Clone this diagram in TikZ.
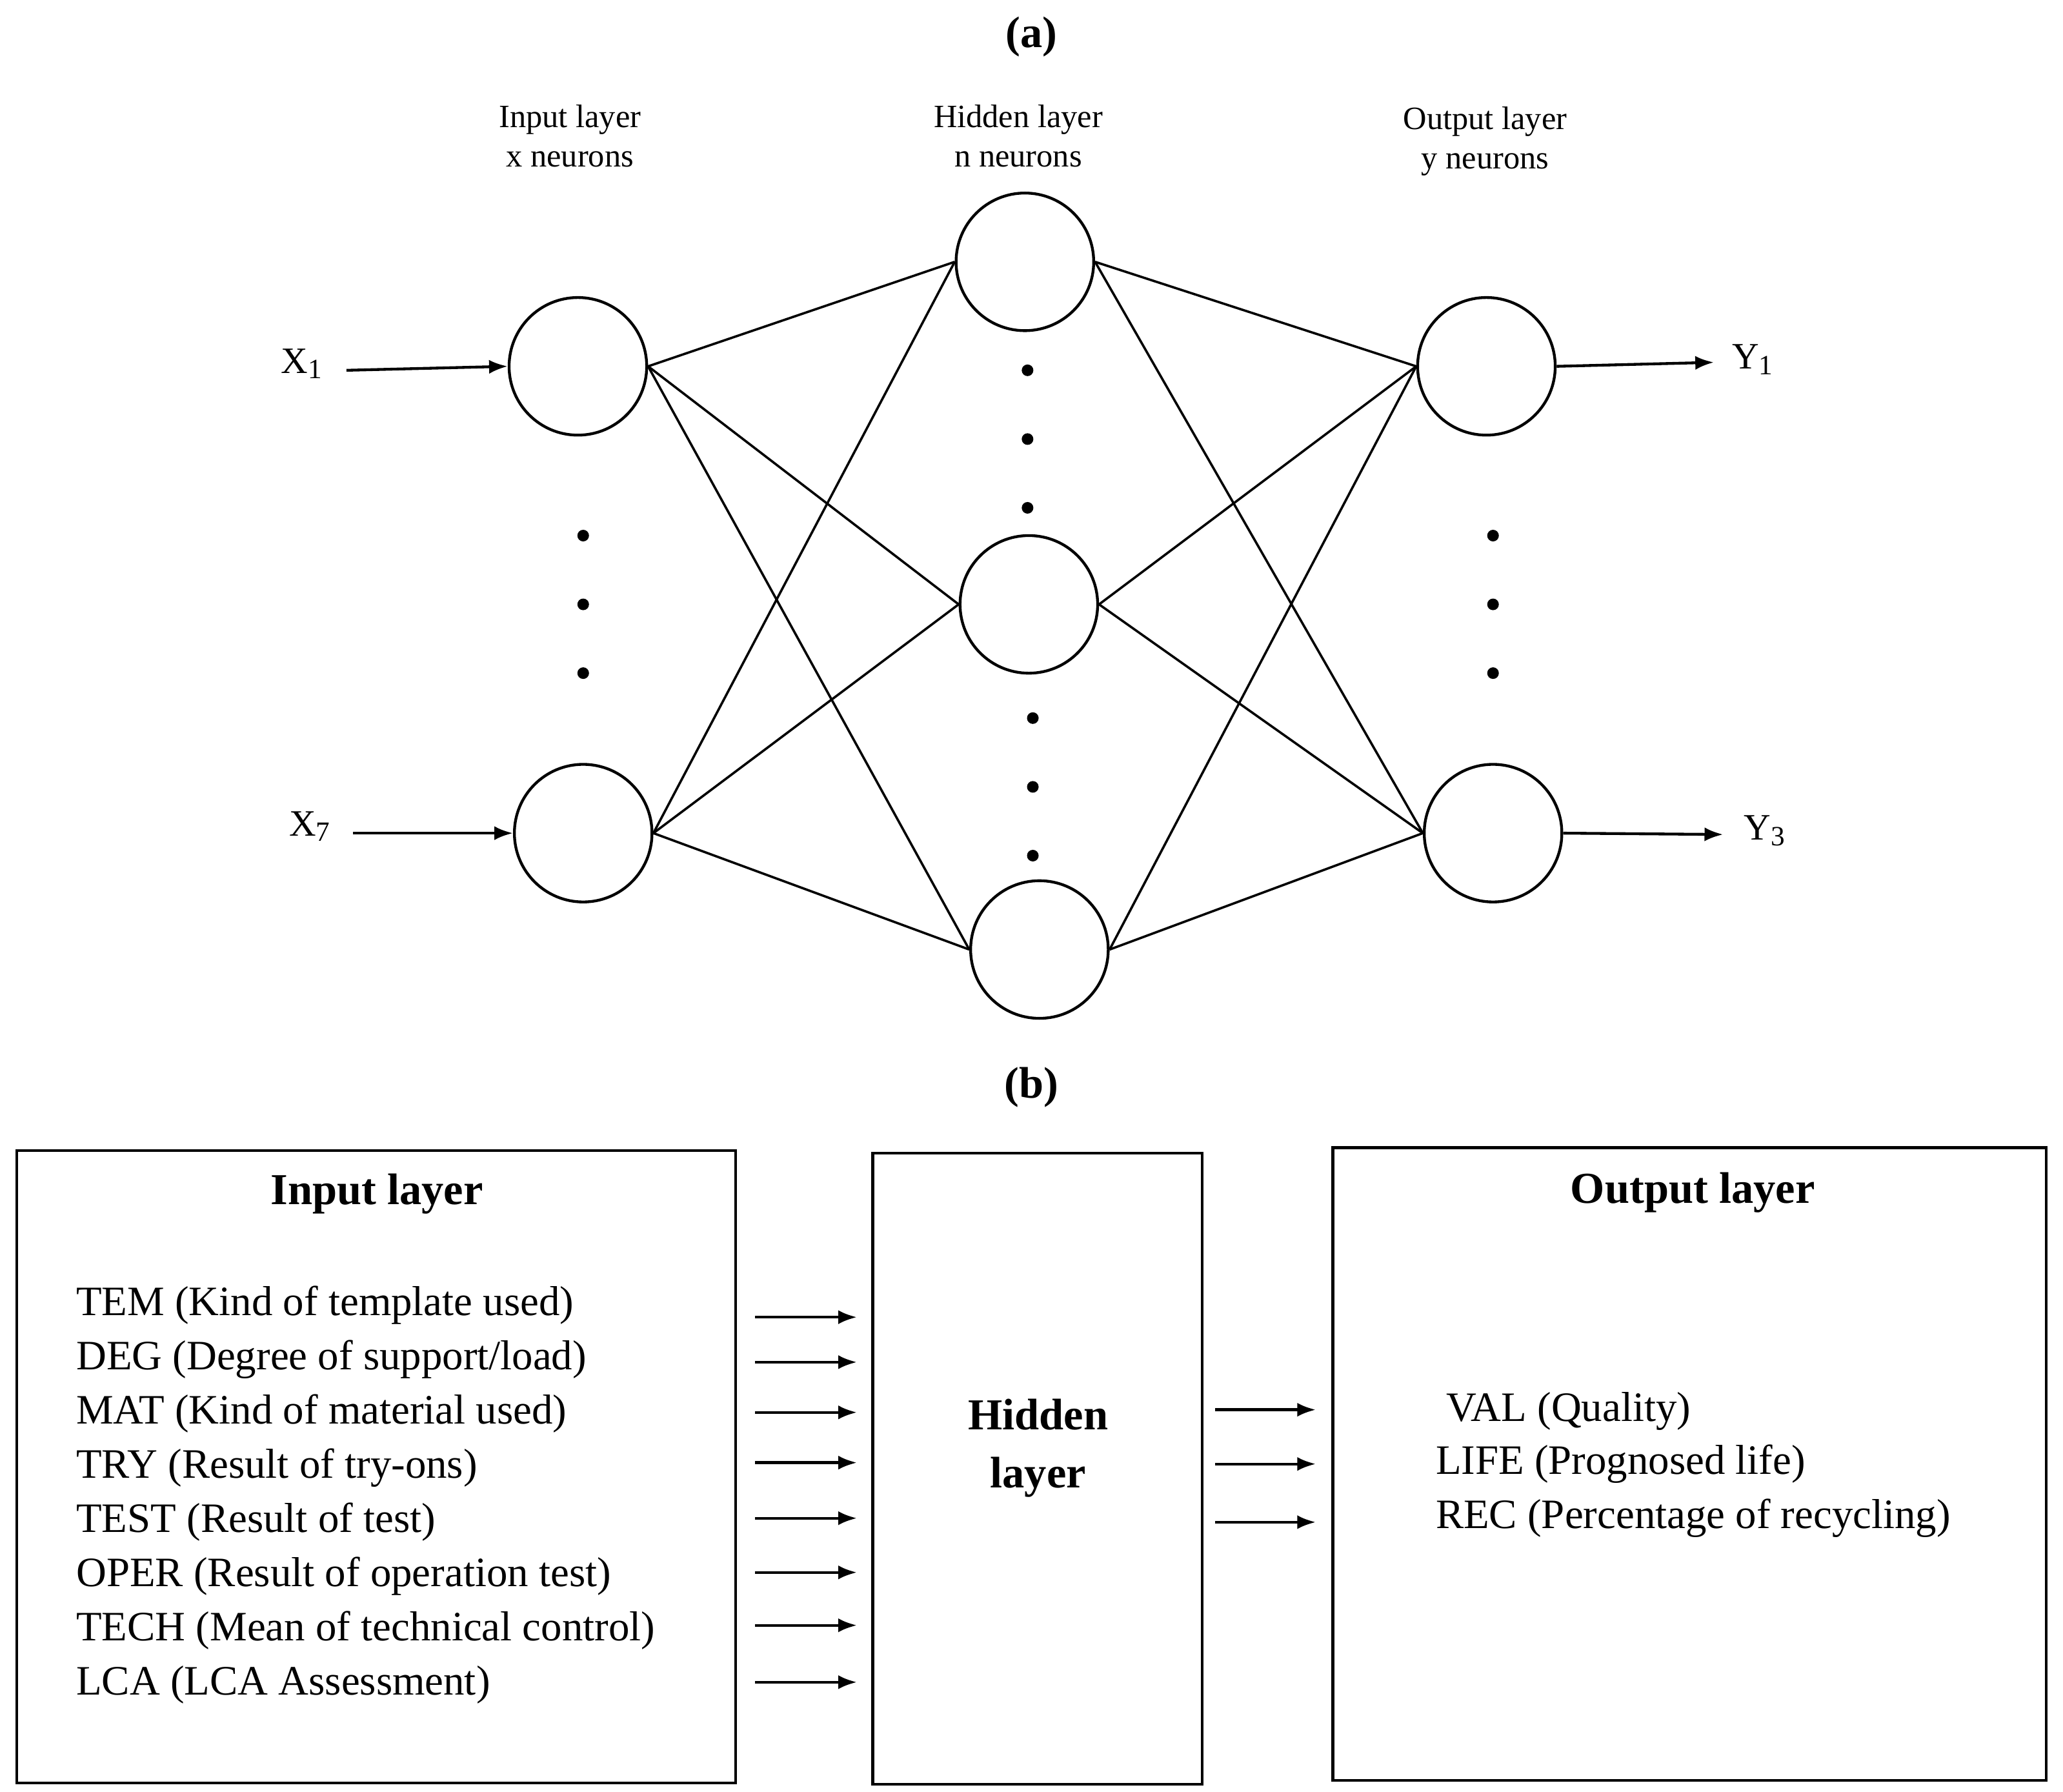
\documentclass[tikz,border=0pt]{standalone}
\usepackage{fontspec}
\setmainfont{Liberation Serif}
\usetikzlibrary{arrows.meta}
\begin{document}
\begin{tikzpicture}[x=0.01cm,y=-0.01cm,
 neuron/.style={draw,circle,minimum size=1.04cm,inner sep=0pt,line width=0.6pt},
 conn/.style={line width=0.5pt},
 arr/.style={line width=0.6pt,-{Latex[length=4pt,width=3pt]}},
 lab/.style={font=\fontsize{7}{8.5}\selectfont,align=center},
 dot/.style={circle,fill,inner sep=0pt,minimum size=2.5pt},
 txt/.style={font=\fontsize{9}{10}\selectfont,anchor=west,inner sep=0pt},
 ttl/.style={font=\fontsize{9.5}{11.5}\selectfont\bfseries,align=center},
 box/.style={draw,line width=0.6pt}]
\useasboundingbox (0,0) rectangle (1560,1354.6);
\node[ttl] (ta) at (780,28) {(a)};
\node[lab] (li) at (431,103) {Input layer\\x neurons};
\node[lab] (lh) at (770,103) {Hidden layer\\n neurons};
\node[lab] (lo) at (1123,107) {Output layer\\y neurons};
\node[neuron] (i1) at (437,277) {};
\node[neuron] (i2) at (441,630) {};
\node[neuron] (h1) at (775,198) {};
\node[neuron] (h2) at (778,457) {};
\node[neuron] (h3) at (786,718) {};
\node[neuron] (o1) at (1124,277) {};
\node[neuron] (o2) at (1129,630) {};
\foreach \y [count=\k] in {405,457,509}{
 \node[dot] (di\k) at (441,\y) {};
 \node[dot] (do\k) at (1129,\y) {};}
\foreach \y [count=\k] in {280,332,384}{\node[dot] (da\k) at (777,\y) {};}
\foreach \y [count=\k] in {543,595,647}{\node[dot] (db\k) at (781,\y) {};}
\foreach \a in {i1,i2}{\foreach \b in {h1,h2,h3}{\draw[conn] (\a.east) -- (\b.west);}}
\foreach \a in {h1,h2,h3}{\foreach \b in {o1,o2}{\draw[conn] (\a.east) -- (\b.west);}}
\node[lab,font=\fontsize{8}{9}\selectfont] (x1) at (229,275) {X\textsubscript{1}};
\node[lab,font=\fontsize{8}{9}\selectfont] (x7) at (235,625) {X\textsubscript{7}};
\node[lab,font=\fontsize{8}{9}\selectfont] (y1) at (1326,272) {Y\textsubscript{1}};
\node[lab,font=\fontsize{8}{9}\selectfont] (y3) at (1335,628) {Y\textsubscript{3}};
\coordinate (ax1) at (262,280); \coordinate (ax7) at (267,630);
\coordinate (ay1) at (1296,274); \coordinate (ay3) at (1303,631);
\draw[arr] (ax1) -- (i1.west);
\draw[arr] (ax7) -- (i2.west);
\draw[arr] (o1.east) -- (ay1);
\draw[arr] (o2.east) -- (ay3);
% (b)
\node[ttl] (tb) at (780,822) {(b)};
\node[box,minimum width=5.43cm,minimum height=4.78cm] (bi) at (284.5,1109) {};
\node[box,minimum width=2.49cm,minimum height=4.77cm] (bh) at (784.5,1110.5) {};
\node[box,minimum width=5.39cm,minimum height=4.78cm] (bo) at (1277.5,1107) {};
\node[ttl] (ti) at (285,903) {Input layer};
\node[ttl] (to) at (1280,902) {Output layer};
\node[ttl,font=\fontsize{9.5}{12.5}\selectfont\bfseries] (th) at (785,1095) {Hidden\\layer};
\foreach \t [count=\k] in {TEM (Kind of template used),DEG (Degree of support/load),MAT (Kind of material used),TRY (Result of try-ons),TEST (Result of test),OPER (Result of operation test),TECH (Mean of technical control),LCA (LCA Assessment)}{
 \node[txt] (in\k) at (57,946+41*\k) {\t};}
\node[txt] (ou1) at (1093,1067) {VAL (Quality)};
\node[txt] (ou2) at (1085,1107) {LIFE (Prognosed life)};
\node[txt] (ou3) at (1085,1148) {REC (Percentage of recycling)};
\foreach \y [count=\k] in {996,1030,1068,1106,1148,1189,1229,1272}{
 \coordinate (as\k) at (571,\y); \coordinate (ae\k) at (648,\y);
 \draw[arr] (as\k) -- (ae\k);}
\foreach \y [count=\k] in {1066,1107,1151}{
 \coordinate (bs\k) at (919,\y); \coordinate (be\k) at (995,\y);
 \draw[arr] (bs\k) -- (be\k);}
\end{tikzpicture}
\end{document}
